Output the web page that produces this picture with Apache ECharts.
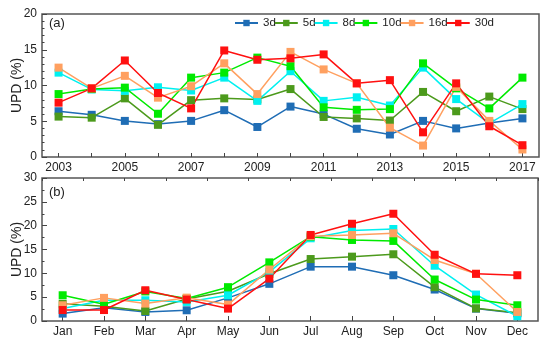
<!DOCTYPE html>
<html><head><meta charset="utf-8">
<script src="https://cdn.jsdelivr.net/npm/echarts@6/dist/echarts.min.js"></script>
<style>html,body{margin:0;padding:0;background:#fff}#c{width:550px;height:344px}</style>
</head><body><div id="c"></div>
<script>
var years = ['2003','2004','2005','2006','2007','2008','2009','2010','2011','2012','2013','2014','2015','2016','2017'];
var a3d  = [6.4, 5.9, 5.05, 4.6, 5.05, 6.55, 4.2, 7.05, 6.0, 3.95, 3.15, 5.05, 4.0, 4.75, 5.4];
var a5d  = [5.65, 5.5, 8.2, 4.5, 7.95, 8.2, 8.05, 9.5, 5.6, 5.4, 5.1, 9.1, 6.4, 8.45, 6.7];
var a8d  = [11.8, 9.45, 9.25, 9.75, 9.3, 11.1, 7.85, 12.0, 7.85, 8.35, 7.2, 12.5, 8.1, 4.7, 7.4];
var a10d = [8.8, 9.5, 9.7, 6.05, 11.1, 11.8, 13.9, 12.7, 6.95, 6.6, 6.7, 13.1, 9.6, 6.8, 11.1];
var a16d = [12.5, 9.6, 11.35, 8.3, 9.9, 13.1, 8.8, 14.7, 12.25, 10.3, 4.1, 1.6, 9.8, 5.05, 1.05];
var a30d = [7.6, 9.6, 13.5, 8.95, 6.8, 14.9, 13.6, 13.8, 14.35, 10.3, 10.75, 3.45, 10.3, 4.3, 1.65];

var months = ['Jan','Feb','Mar','Apr','May','Jun','Jul','Aug','Sep','Oct','Nov','Dec'];
var b3d  = [1.55, 2.8, 1.9, 2.25, 4.85, 7.8, 11.4, 11.4, 9.6, 6.6, 2.6, 1.6];
var b5d  = [3.6, 3.1, 2.1, 4.6, 6.25, 9.9, 13.0, 13.5, 14.0, 7.1, 2.65, 1.75];
var b8d  = [2.6, 4.35, 4.35, 4.0, 5.4, 10.3, 17.35, 19.0, 19.3, 11.6, 5.55, 1.0];
var b10d = [5.4, 3.5, 6.2, 4.7, 7.1, 12.3, 17.7, 17.0, 16.8, 8.7, 4.5, 3.3];
var b16d = [3.3, 4.85, 3.65, 4.9, 3.45, 10.8, 17.8, 18.05, 18.4, 12.8, 9.9, 1.9];
var b30d = [2.3, 2.3, 6.45, 4.5, 2.6, 8.9, 18.05, 20.4, 22.5, 13.9, 9.9, 9.6];

var names = ['3d','5d','8d','10d','16d','30d'];
var colors = ['#1f6db5','#4c9a1c','#00f0f0','#00ea00','#ffa060','#ff1010'];
var topData = [a3d, a5d, a8d, a10d, a16d, a30d];
var botData = [b3d, b5d, b8d, b10d, b16d, b30d];

var font = 'Arial, "Liberation Sans", sans-serif';
var chart = echarts.init(document.getElementById('c'), null, {renderer:'canvas'});

function yAx(gi, max, minorN){
  return {
    type:'value', gridIndex:gi, min:0, max:max, interval:5,
    name:'UPD (%)', nameLocation:'middle', nameGap:18, nameMoveOverlap:false,
    nameTextStyle:{fontFamily:font, fontSize:14, color:'#222'},
    axisLine:{show:false},
    axisTick:{show:true, inside:true, length:5, lineStyle:{color:'#444'}},
    minorTick:{show:true, splitNumber:minorN, length:2.5, lineStyle:{color:'#444'}},
    splitLine:{show:false},
    axisLabel:{fontFamily:font, fontSize:12, color:'#222', margin:5}
  };
}

var series = [];
names.forEach(function(n, i){
  series.push({name:n, type:'line', xAxisIndex:0, yAxisIndex:0, data:topData[i],
    symbol:'rect', symbolSize:8, color:colors[i], lineStyle:{width:1.5, color:colors[i]},
    itemStyle:{color:colors[i]}, animation:false});
});
names.forEach(function(n, i){
  series.push({name:n, type:'line', xAxisIndex:1, yAxisIndex:1, data:botData[i],
    symbol:'rect', symbolSize:8, color:colors[i], lineStyle:{width:1.5, color:colors[i]},
    itemStyle:{color:colors[i]}, animation:false});
});

var option = {
  backgroundColor:'#fff',
  animation:false,
  grid:[
    {left:42, right:11, top:14, height:143, containLabel:false, outerBoundsMode:'none', show:true, borderColor:'#555', borderWidth:1.5, backgroundColor:'transparent'},
    {left:42, right:12, top:178, height:143, containLabel:false, outerBoundsMode:'none', show:true, borderColor:'#555', borderWidth:1.5, backgroundColor:'transparent'}
  ],
  legend:{
    data:names, left:234, top:17, padding:0, itemWidth:23, itemHeight:8, itemGap:-2,
    textStyle:{fontFamily:font, fontSize:11.5, color:'#222'}
  },
  xAxis:[
    {type:'category', gridIndex:0, data:years, boundaryGap:true,
      axisLine:{show:false},
      axisTick:{show:true, inside:true, alignWithLabel:true, interval:0, length:4, lineStyle:{color:'#444'}},
      axisLabel:{interval:1, fontFamily:font, fontSize:12, color:'#222', margin:5}},
    {type:'category', gridIndex:1, data:months, boundaryGap:true,
      axisLine:{show:false},
      axisTick:{show:true, inside:true, alignWithLabel:true, interval:0, length:5, lineStyle:{color:'#444'}},
      axisLabel:{interval:0, fontFamily:font, fontSize:12, color:'#222', margin:5}},
    {type:'category', gridIndex:1, data:months, boundaryGap:true,
      axisLine:{show:false},
      axisTick:{show:true, inside:true, alignWithLabel:false, interval:0, length:3, lineStyle:{color:'#444'}},
      axisLabel:{show:false}}
  ],
  yAxis:[ yAx(0, 20, 5), yAx(1, 30, 2) ],
  graphic:[
    {type:'text', left:49, top:17, style:{text:'(a)', font:'13px Arial, "Liberation Sans", sans-serif', fill:'#222'}},
    {type:'text', left:49, top:186, style:{text:'(b)', font:'13px Arial, "Liberation Sans", sans-serif', fill:'#222'}}
  ],
  series:series
};
chart.setOption(option);
</script>
</body></html>
